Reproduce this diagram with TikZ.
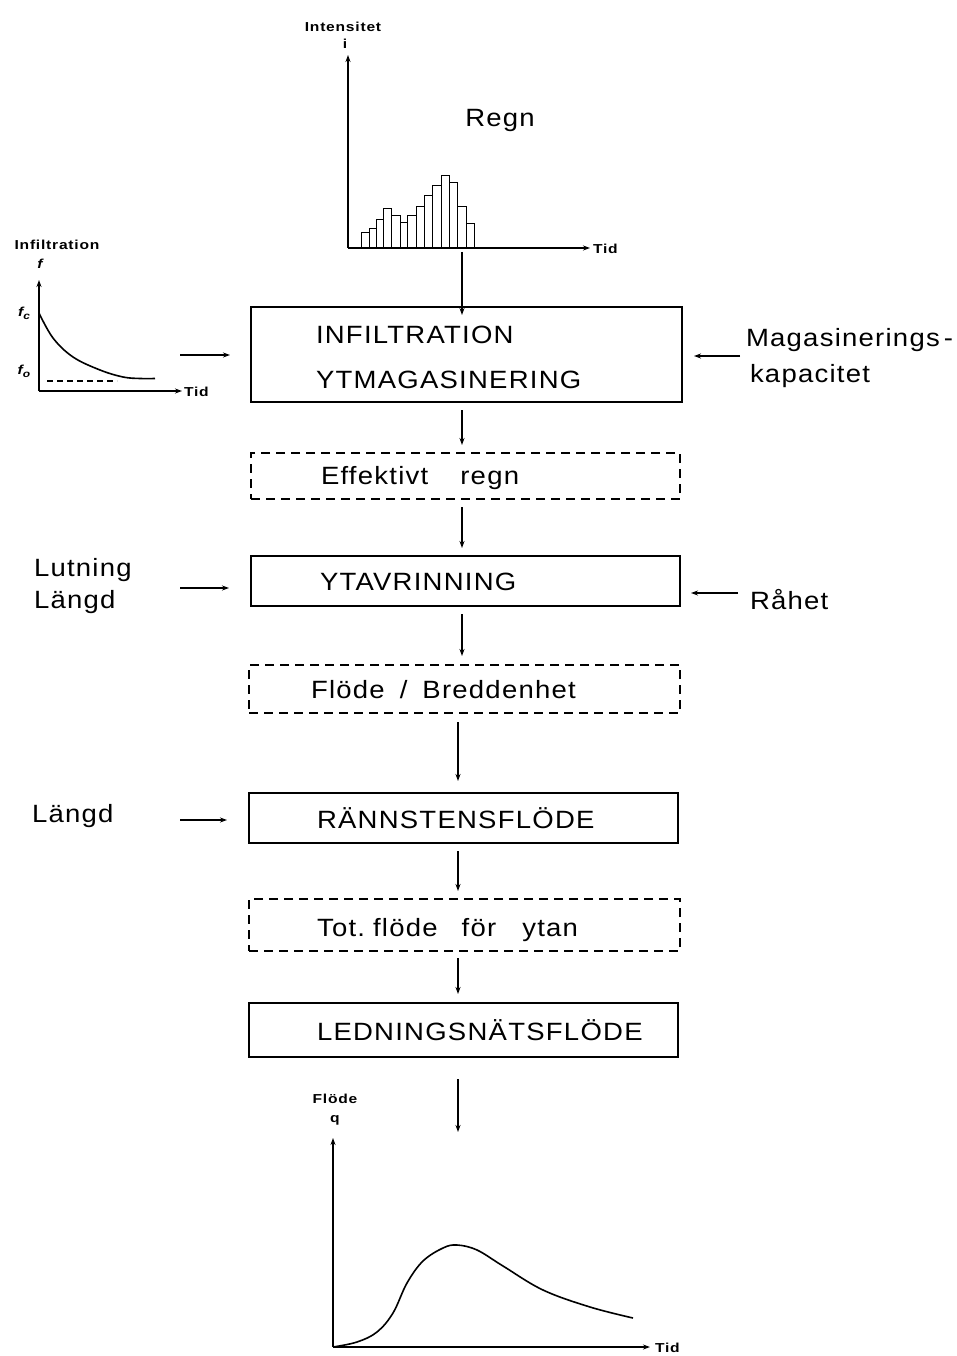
\documentclass[tikz,border=0pt]{standalone}
\usepackage{fontspec}
\setmainfont{Liberation Sans}
\newfontfamily\bigf[FakeStretch=1.1,LetterSpace=5]{Liberation Sans}
\newfontfamily\smallf[FakeStretch=1.2,LetterSpace=6]{Liberation Sans}
\usetikzlibrary{arrows.meta}
\begin{document}
\begin{tikzpicture}[x=1pt,y=-1pt,
  every node/.style={inner sep=0pt,outer sep=0pt},
  procbox/.style={draw,line width=1.3pt},
  dashbox/.style={draw,line width=1.3pt,dash pattern=on 9pt off 6pt},
  big/.style={font=\bigf\fontsize{25}{28}\selectfont},
  small/.style={font=\smallf\bfseries\fontsize{13}{14}\selectfont},
  arr/.style={line width=1.2pt,-{Stealth[length=7pt,width=5pt]}},
  axis/.style={line width=1.3pt,-{Stealth[length=7pt,width=5pt]}},
  curve/.style={line width=1.6pt},
  bar/.style={draw,line width=1pt,fill=white}
]
\useasboundingbox (0,0) rectangle (957,1356);

% ---------- rain hyetograph ----------
\coordinate (hO) at (348,248);
\coordinate (hY) at (348,55);
\coordinate (hX) at (590,248);
\draw[axis] (hO) -- (hY);
\foreach \xl/\xr/\t in {361/369/232.3,369/376/228.7,376/383.3/220,383.3/391.7/209,391.7/400/216,400/407.7/222.3,407.7/416/216,416/424.3/206.3,424.3/432.7/196,432.7/441/185.7,441/449.3/175.7,449.3/457.7/182.7,457.7/466/207,466/474.3/223.3}
  \draw[bar] (\xl,248) rectangle (\xr,\t);
\draw[axis] (hO) -- (hX);
\node[small,anchor=west] (hTid) at (593,249) {Tid};
\node[small] (hInt) at (343,27) {Intensitet};
\node[small] (hi) at (345,44) {i};
\node[big] (regn) at (500,120) {Regn};

% ---------- process boxes ----------
\node[procbox,minimum width=431,minimum height=95] (b1) at (466.5,354.5) {};
\node[dashbox,minimum width=429,minimum height=46] (b2) at (465.5,476) {};
\node[procbox,minimum width=429,minimum height=50] (b3) at (465.5,581) {};
\node[dashbox,minimum width=431,minimum height=48] (b4) at (464.5,689) {};
\node[procbox,minimum width=429,minimum height=50] (b5) at (463.5,818) {};
\node[dashbox,minimum width=431,minimum height=52] (b6) at (464.5,925) {};
\node[procbox,minimum width=429,minimum height=54] (b7) at (463.5,1030) {};

\node[big,anchor=west] (t1a) at (316,335) {INFILTRATION};
\node[big,anchor=west] (t1b) at (316,380) {YTMAGASINERING};
\node[big,anchor=west] (t2) at (321,478) {Effektivt\hspace{32pt}regn};
\node[big,anchor=west] (t3) at (320,582) {YTAVRINNING};
\node[big,anchor=west] (t4) at (311,690) {Flöde\hspace{15pt}/\hspace{15pt}Breddenhet};
\node[big,anchor=west] (t5) at (317,818) {RÄNNSTENSFLÖDE};
\node[big,anchor=west] (t6) at (317,930) {Tot.\hspace{8pt}flöde\hspace{24pt}för\hspace{26pt}ytan};
\node[big,anchor=west] (t7) at (317,1030) {LEDNINGSNÄTSFLÖDE};

% ---------- vertical flow arrows ----------
\coordinate (k1) at (462,0);
\coordinate (k2) at (458,0);
\coordinate (rainTop) at (462,252);
\draw[arr] (rainTop) -- ([yshift=-8pt]b1.north -| k1);
\draw[arr,shorten <=8pt,shorten >=8pt] (b1.south -| k1) -- (b2.north -| k1);
\draw[arr,shorten <=8pt,shorten >=8pt] (b2.south -| k1) -- (b3.north -| k1);
\draw[arr,shorten <=8pt,shorten >=9pt] (b3.south -| k1) -- (b4.north -| k1);
\draw[arr,shorten <=9pt,shorten >=12pt] (b4.south -| k2) -- (b5.north -| k2);
\draw[arr,shorten <=8pt,shorten >=8pt] (b5.south -| k2) -- (b6.north -| k2);
\draw[arr,shorten <=7pt,shorten >=9pt] (b6.south -| k2) -- (b7.north -| k2);
\coordinate (hydTop) at (458,1132);
\draw[arr,shorten <=22pt] (b7.south -| k2) -- (hydTop);

% ---------- infiltration graph ----------
\coordinate (iO) at (39,391);
\coordinate (iY) at (39,280);
\coordinate (iX) at (182,391);
\draw[axis] (iO) -- (iY);
\draw[axis] (iO) -- (iX);
\draw[curve] plot[smooth,tension=0.6] coordinates {(39,313) (53,338) (73,357) (100,370) (123,377) (140,378.5) (155,378.5)};
\draw[line width=1.2pt,dash pattern=on 6pt off 4pt] (47,381) -- (117,381);
\node[small,anchor=west] (iTid) at (184,392) {Tid};
\node[small] (iInf) at (57,245) {Infiltration};
\node[small] (iF) at (40,264) {\itshape f};
\node[small] (ifc) at (24,313) {\itshape f\raisebox{-3pt}{\fontsize{10}{10}\selectfont c}};
\node[small] (ifo) at (24,371) {\itshape f\raisebox{-3pt}{\fontsize{10}{10}\selectfont o}};
\coordinate (inA) at (180,355);
\draw[arr,shorten >=21pt] (inA) -- (inA -| b1.west);

% ---------- side inputs ----------
\node[big,anchor=west] (mag) at (746,340) {Magasinerings\hspace{4pt}-};
\node[big,anchor=west] (kap) at (750,376) {kapacitet};
\coordinate (magA) at (740,356);
\draw[arr,shorten >=12pt] (magA) -- (magA -| b1.east);

\node[big,anchor=west] (lut) at (34,570) {Lutning};
\node[big,anchor=west] (lan1) at (34,602) {Längd};
\coordinate (lutA) at (180,588);
\draw[arr,shorten >=22pt] (lutA) -- (lutA -| b3.west);

\node[big,anchor=west] (rah) at (750,600) {Råhet};
\coordinate (rahA) at (738,593);
\draw[arr,shorten >=11pt] (rahA) -- (rahA -| b3.east);

\node[big,anchor=west] (lan2) at (32,816) {Längd};
\coordinate (lanA) at (180,820);
\draw[arr,shorten >=22pt] (lanA) -- (lanA -| b5.west);

% ---------- hydrograph ----------
\coordinate (qO) at (333,1347);
\coordinate (qY) at (333,1138);
\coordinate (qX) at (650,1347);
\draw[axis] (qO) -- (qY);
\draw[axis] (qO) -- (qX);
\draw[curve] plot[smooth,tension=0.6] coordinates {(333,1347) (357,1342) (377,1332) (393,1313) (407,1283) (423,1261) (443,1248) (457,1245) (477,1250) (503,1266) (543,1290) (590,1307) (633,1318)};
\node[small,anchor=west] (qTid) at (655,1348) {Tid};
\node[small] (qFl) at (335,1099) {Flöde};
\node[small] (qq) at (335,1120) {q};
\end{tikzpicture}
\end{document}
